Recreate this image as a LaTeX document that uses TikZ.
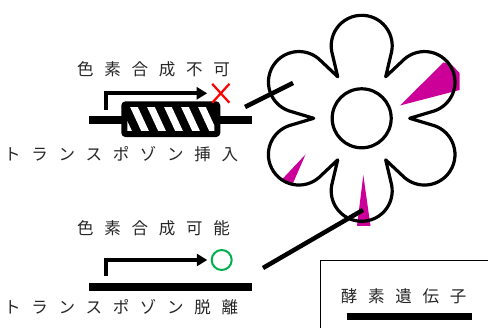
\documentclass[tikz,border=0pt]{standalone}
\usepackage{fontspec}
\newfontfamily\jp[LetterSpace=65]{Noto Sans CJK JP}
\usetikzlibrary{arrows.meta,calc,shapes.misc}
\definecolor{petalmark}{RGB}{204,0,153}
\definecolor{okgreen}{RGB}{0,176,80}
\begin{document}
\begin{tikzpicture}[x=1pt,y=-1pt,
  lbl/.style={font=\jp\fontsize{16.5}{18}\selectfont, text=black!85, inner sep=0pt, anchor=west},
  genebar/.style={line width=7.5pt},
  promoter/.style={line width=4.3pt, line join=miter, -{Triangle[length=10.5pt,width=12pt]}},
  leader/.style={line width=4.5pt},
  outline/.style={line width=3.2pt, line join=round},
  wedge/.style={fill=petalmark}]
\useasboundingbox (0,0) rectangle (488,328);
\clip (0,0) rectangle (488,328);

% --- pigment patches on the petals (drawn under the outline)
\fill[wedge] (400,105.5) -- (443.5,62.5) -- (452,65) -- (459.5,73) -- (459.5,90) -- cycle;
\fill[wedge] (305.5,154.5) -- (281.5,180) -- (292,185.5) -- cycle;
\fill[wedge] (363.3,175) -- (357,226) -- (370.5,226) -- cycle;

% --- flower: six petals around a round centre
\coordinate (flower) at (361.7,118.3);
\begin{scope}[shift={(flower)}, y=1pt]
  \draw[outline] (0:48)
    \foreach \t in {30,90,...,330} {
      -- ($(\t:72.5)+(\t-101:30.5)$)
      arc[start angle=\t-101, end angle=\t+101, radius=30.5]
      -- (\t+30:48)
    } -- cycle;
  \draw[outline] (0,0) circle[radius=29.5];
\end{scope}

% --- upper gene: transposon inserted
\coordinate (g1a) at (89,120);
\coordinate (g1b) at (252,120);
\draw[genebar] (g1a) -- (g1b);
\node[draw, fill=black, line width=4pt, rounded corners=2.5pt,
      minimum width=91pt, minimum height=27.7pt, inner sep=0pt] (transposon) at (170.8,119.2) {};
\begin{scope}
  \clip (127.3,107.4) rectangle (214.3,131);
  \foreach \s in {116,133,150,167,184,201,218}
    \draw[white, line width=7pt] (\s,105) -- (\s+13,133);
\end{scope}
\draw[line width=4pt, rounded corners=2.5pt]
  (transposon.north west) rectangle (transposon.south east);

\node[cross out, draw=red, line width=2.2pt, minimum width=15pt, minimum height=16.7pt,
      inner sep=0pt] (blocked) at (220.8,93.3) {};
\coordinate (tss1) at (106,110);
\draw[promoter, shorten >=5pt] (tss1) |- (blocked.west);

\node[lbl] (t1) at (77,69.5) {色素合成不可};
\node[lbl] (t2) at (4,154) {トランスポゾン挿入};

% --- lower gene: transposon excised
\coordinate (g2a) at (89.3,287);
\coordinate (g2b) at (252.3,287);
\draw[genebar] (g2a) -- (g2b);
\node[circle, draw=okgreen, line width=2pt, minimum size=20pt, inner sep=0pt] (expressed) at (221.7,260) {};
\coordinate (tss2) at (106,276);
\draw[promoter, shorten >=3.4pt] (tss2) |- (expressed.west);

\node[lbl] (t3) at (77,228.5) {色素合成可能};
\node[lbl] (t4) at (4,306.7) {トランスポゾン脱離};

% --- leaders from the genes to the petals
\coordinate (l1a) at (245,107);
\coordinate (l1b) at (293,83);
\draw[leader] (l1a) -- (l1b);
\coordinate (l2a) at (263,268);
\coordinate (l2b) at (363,210);
\draw[leader] (l2a) -- (l2b);

% --- legend
\coordinate (keycorner) at (320,260.7);
\draw[line width=1pt] (keycorner) rectangle (500,340);
\node[lbl] (keytext) at (340.7,296) {酵素遺伝子};
\coordinate (k1) at (346.7,316.3);
\coordinate (k2) at (471.7,316.3);
\draw[genebar, line width=7pt] (k1) -- (k2);
\end{tikzpicture}
\end{document}
